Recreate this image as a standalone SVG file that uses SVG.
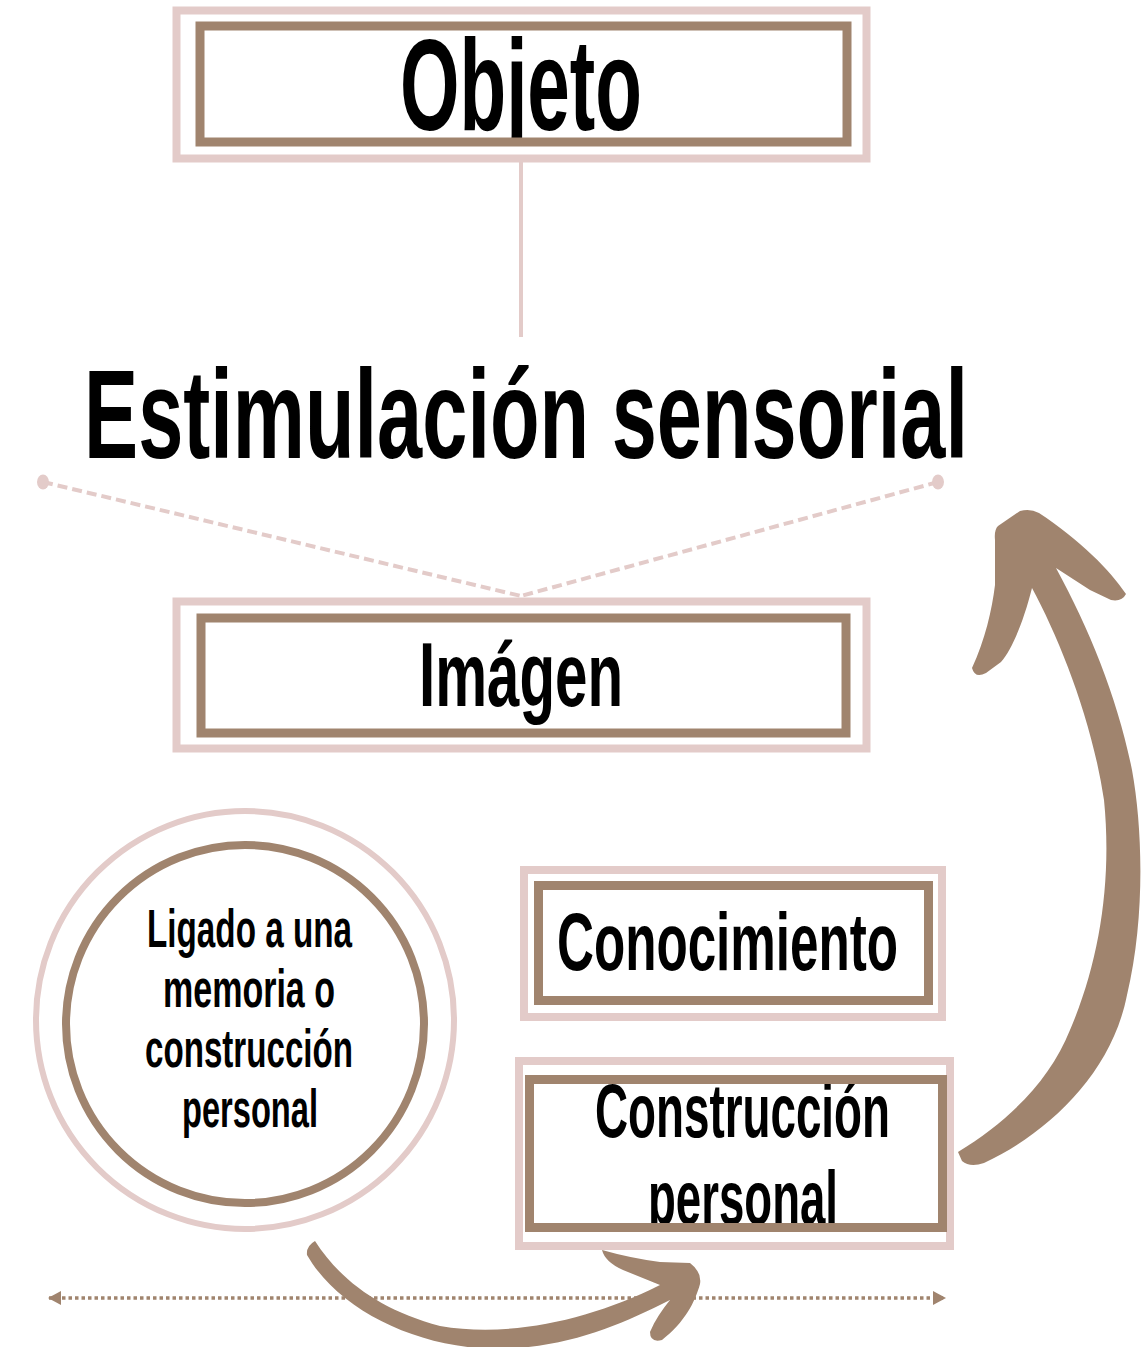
<svg xmlns="http://www.w3.org/2000/svg" width="1145" height="1347" viewBox="0 0 1145 1347">
<style>
.pink{fill:none;stroke:#e3cbc9;stroke-width:8}
.brown{fill:none;stroke:#a0846e;stroke-width:9}
.bg{fill:#ffffff}
.t{font-family:"Liberation Sans",Arial,sans-serif;font-weight:bold;fill:#000;text-anchor:start}
.arrow{fill:#a0846e}
</style>
<defs>
<marker id="dotHead" viewBox="0 0 13 16" refX="12" refY="8" markerWidth="13" markerHeight="16" markerUnits="userSpaceOnUse" orient="auto-start-reverse">
<path d="M0,1 L13,8 L0,15 Z" fill="#a0846e"/>
</marker>
<clipPath id="clipObjeto"><rect x="196" y="22" width="655" height="124"/></clipPath>
<clipPath id="clipImagen"><rect x="197" y="614" width="653" height="123"/></clipPath>
<clipPath id="clipConstr"><rect x="525" y="1075" width="422" height="157"/></clipPath>
</defs>
<rect width="1145" height="1347" fill="#ffffff"/>

<g id="connectors">
<line x1="521" y1="162" x2="521" y2="337" stroke="#e3cbc9" stroke-width="4"/>
<line x1="43" y1="482" x2="521" y2="596" stroke="#e3cbc9" stroke-width="4" stroke-dasharray="10 5"/>
<line x1="938" y1="482" x2="521" y2="596" stroke="#e3cbc9" stroke-width="4" stroke-dasharray="10 5"/>
<ellipse cx="43" cy="482" rx="6" ry="7.5" fill="#e3cbc9"/>
<ellipse cx="938" cy="482" rx="6" ry="7.5" fill="#e3cbc9"/>
<line x1="49" y1="1298" x2="945" y2="1298" stroke="#a0846e" stroke-width="3.5" stroke-dasharray="3.5 3" marker-start="url(#dotHead)" marker-end="url(#dotHead)"/>
<path class="arrow" d="M958,1152 L962,1161 Q970,1168 984,1163 C1050,1132 1112,1072 1127,995 C1145,920 1143,830 1132,770 C1118,700 1090,630 1056,568 L1090,590 L1111,600 Q1122,602 1126,594 C1110,570 1080,540 1039,513 Q1030,508 1020,511 L998,526 Q994,530 995,540 L995,585 C992,610 985,640 972,668 Q975,679 986,673 L1001,662 C1012,650 1024,620 1032,588 C1060,640 1092,720 1104,800 C1112,880 1100,960 1070,1030 C1050,1080 1010,1120 958,1152 Z"/>
<path class="arrow" d="M307,1255 Q306,1246 315,1241 C340,1280 380,1310 440,1326 C510,1338 590,1320 660,1285 L623,1270 Q605,1262 602,1250 Q630,1258 660,1262 L690,1263 Q702,1272 700,1284 C695,1302 685,1322 662,1340 Q650,1343 650,1332 C655,1320 662,1310 670,1300 C620,1325 570,1347 500,1349 C420,1349 340,1312 307,1255 Z"/>
</g>

<g id="objeto">
<rect class="bg" x="176" y="10" width="691" height="148"/>
<text class="t" x="400" y="130" font-size="130" textLength="242" lengthAdjust="spacingAndGlyphs" clip-path="url(#clipObjeto)">Objeto</text>
<rect class="pink" x="176.5" y="10.5" width="690" height="148" stroke-width="7"/>
<rect class="brown" x="200" y="26" width="647" height="116" stroke-width="8"/>
</g>

<g id="estimulacion">
<text class="t" x="84" y="458" font-size="127" textLength="884" lengthAdjust="spacingAndGlyphs">Estimulación sensorial</text>
</g>

<g id="imagen">
<rect class="bg" x="176" y="601" width="691" height="148"/>
<text class="t" x="419" y="706" font-size="91" textLength="204" lengthAdjust="spacingAndGlyphs" clip-path="url(#clipImagen)">Imágen</text>
<rect class="pink" x="176.5" y="601.5" width="690" height="147" stroke-width="7"/>
<rect class="brown" x="201" y="618" width="645" height="115" stroke-width="8"/>
</g>

<g id="memoria">
<circle cx="245" cy="1020" r="209" fill="#ffffff" stroke="#e3cbc9" stroke-width="6"/>
<circle cx="245" cy="1024" r="179" fill="none" stroke="#a0846e" stroke-width="8"/>
<text class="t" x="147" y="947" font-size="54" textLength="205" lengthAdjust="spacingAndGlyphs">Ligado a una</text>
<text class="t" x="163" y="1007" font-size="54" textLength="172" lengthAdjust="spacingAndGlyphs">memoria o</text>
<text class="t" x="145" y="1067" font-size="54" textLength="208" lengthAdjust="spacingAndGlyphs">construcción</text>
<text class="t" x="182" y="1127" font-size="54" textLength="136" lengthAdjust="spacingAndGlyphs">personal</text>
</g>

<g id="conocimiento">
<rect class="bg" x="524" y="870" width="418" height="147"/>
<text class="t" x="557" y="970" font-size="81" textLength="341" lengthAdjust="spacingAndGlyphs">Conocimiento</text>
<rect class="pink" x="524" y="870" width="418" height="147"/>
<rect class="brown" x="538.5" y="885.5" width="390" height="115"/>
</g>

<g id="construccion">
<rect class="bg" x="519" y="1061" width="431" height="185"/>
<g clip-path="url(#clipConstr)">
<text class="t" x="595" y="1137" font-size="76" textLength="295" lengthAdjust="spacingAndGlyphs">Construcción</text>
<text class="t" x="648" y="1224" font-size="76" textLength="190" lengthAdjust="spacingAndGlyphs">personal</text>
</g>
<rect class="pink" x="519" y="1061" width="431" height="185"/>
<rect class="brown" x="529.5" y="1079.5" width="413" height="148"/>
</g>
</svg>
